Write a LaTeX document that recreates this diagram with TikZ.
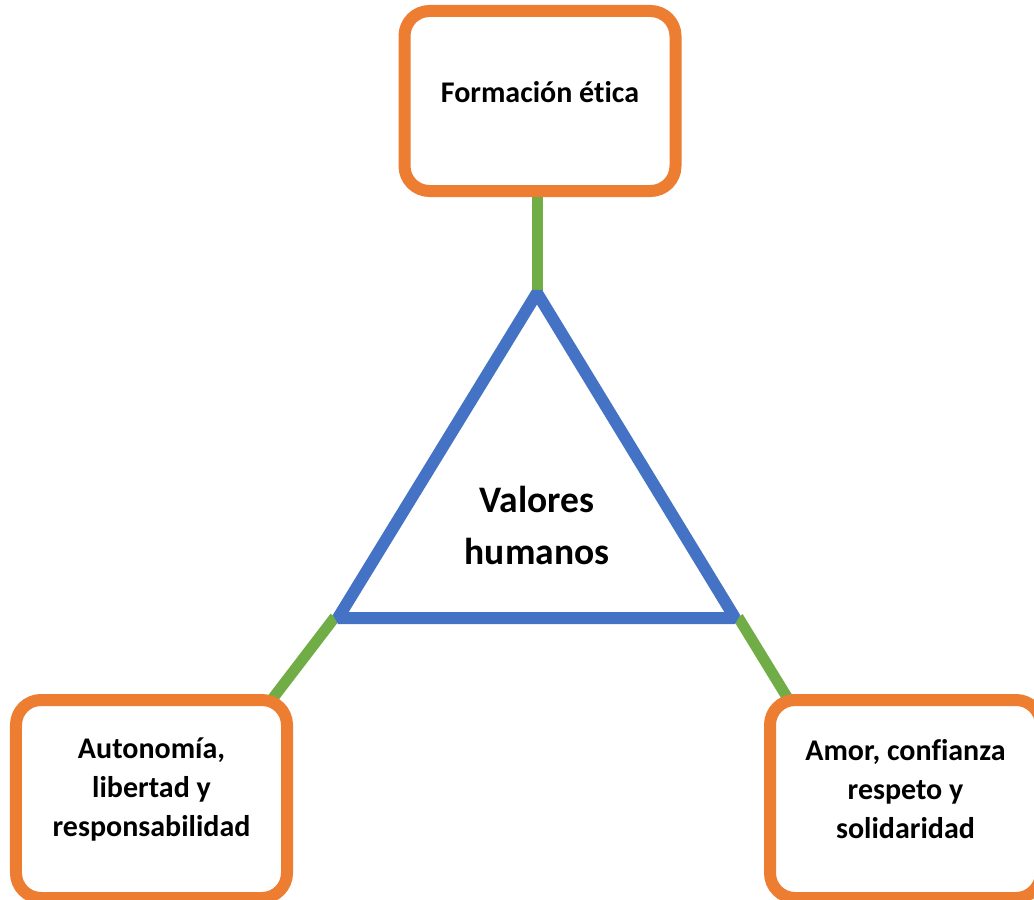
\documentclass[tikz,border=0pt]{standalone}
\usepackage{fontspec}
\setmainfont{Carlito}[Ligatures=NoCommon]
\usetikzlibrary{positioning,backgrounds}
\definecolor{naranja}{HTML}{ED7D31}
\definecolor{azul}{HTML}{4472C4}
\definecolor{verde}{HTML}{70AD47}

\begin{document}
\begin{tikzpicture}[x=0.4pt, y=-0.4pt,
box/.style={draw=naranja, line width=4.8pt, rounded corners=10pt, fill=white,
            minimum width=108.4pt, minimum height=72pt},
tallbox/.style={box, minimum height=79.2pt},
txt/.style={align=center, font={\bfseries\fontsize{12}{15.6}\selectfont}},
bigtxt/.style={align=center, font={\bfseries\fontsize{15}{20.8}\selectfont}},
link/.style={draw=verde, line width=4.4pt},
tri/.style={draw=azul, line width=4.8pt, line join=bevel}
]
\useasboundingbox (0,0) rectangle (1034,900);

% triangle corners
\coordinate (apex) at (537,293);
\coordinate (izq) at (338,618);
\coordinate (der) at (735,618);

% boxes (text placed separately, a bit above the middle)
\node[box] (etica) at (540,101) {};
\node[tallbox] (autonomia) at (151.5,799) {};
\node[tallbox] (amor) at (905.5,799) {};

% free ends of the green links
\coordinate (izqend) at (270,702);
\coordinate (derend) at (790,702);

\draw[tri] (apex) -- (izq) -- (der) -- cycle;

% links go behind the boxes and the triangle
\begin{scope}[on background layer]
\draw[link] (apex) -- (apex |- etica.south);
\draw[link] ([shift={(-3,-1)}]izq) -- (izqend);
\draw[link] ([shift={(3,-1)}]der) -- (derend);
\end{scope}

\node[txt] (etica-t) at ([yshift=3.6pt]etica.center) {Formación ética};
\node[txt] (autonomia-t) at ([yshift=4pt]autonomia.center)
{Autonomía,\\libertad y\\responsabilidad};
\node[txt] (amor-t) at ([yshift=4pt]amor.center)
{Amor, confianza\\respeto y\\solidaridad};
\node[bigtxt] (valores) at (537,525) {Valores\\humanos};
\end{tikzpicture}
\end{document}
